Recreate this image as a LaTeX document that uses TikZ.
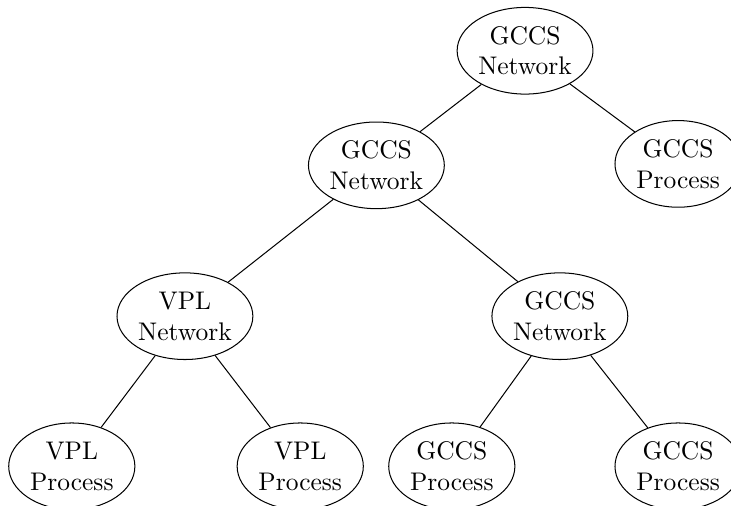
\documentclass[tikz,border=0pt]{standalone}
\usetikzlibrary{shapes.geometric}

\tikzset{
    tnode/.style={ellipse, draw, align=center, inner xsep=0.5pt, inner ysep=0pt,
        minimum height=34pt, minimum width=49.5pt}
}

\begin{document}
\begin{tikzpicture}
            \useasboundingbox (0,0) rectangle (10.08,-6.965);
            \node[tnode] (net-0) at (7.24,-0.70) {GCCS\\Network};
            \node[tnode] (net-1) at (5.19,-2.28) {GCCS\\Network};
            \node[tnode] (proc-0) at (9.35,-2.26) {GCCS\\Process};
            \node[tnode] (vnet) at (2.55,-4.36) {VPL\\Network};
            \node[tnode] (net-2) at (7.72,-4.36) {GCCS\\Network};
            \node[tnode] (vproc-0) at (0.99,-6.43) {VPL\\Process};
            \node[tnode] (vproc-1) at (4.14,-6.43) {VPL\\Process};
            \node[tnode] (proc-1) at (6.23,-6.43) {GCCS\\Process};
            \node[tnode] (proc-2) at (9.35,-6.43) {GCCS\\Process};
            %\draw (net-0) -- (net-1);
            \foreach \a/\b in {net-0/net-1, net-0/proc-0, net-1/vnet, net-1/net-2,
                vnet/vproc-0, vnet/vproc-1, net-2/proc-1, net-2/proc-2}
            {
                \draw (\a) -- (\b);
            }
        \end{tikzpicture}
\end{document}
